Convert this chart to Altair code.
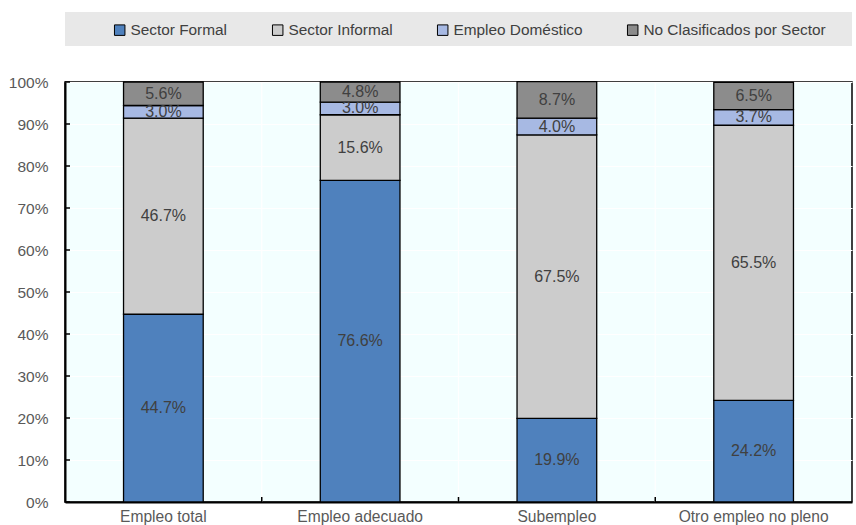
import altair as alt
import pandas as pd

# Employment categories and the share of each sector (percent)
categories = ["Empleo total", "Empleo adecuado", "Subempleo", "Otro empleo no pleno"]
series = ["Sector Formal", "Sector Informal", "Empleo Doméstico", "No Clasificados por Sector"]
formal = [44.7, 76.6, 19.9, 24.2]
informal = [46.7, 15.6, 67.5, 65.5]
domestico = [3.0, 3.0, 4.0, 3.7]
no_clasif = [5.6, 4.8, 8.7, 6.5]
colors = ["#4F81BD", "#CCCCCC", "#A7B9E3", "#8C8C8C"]
y_ticks = list(range(0, 101, 10))

rows = []
for s_i, (name, vals) in enumerate(zip(series, [formal, informal, domestico, no_clasif])):
    for cat, v in zip(categories, vals):
        rows.append({"categoria": cat, "sector": name, "orden": s_i, "valor": v})
df = pd.DataFrame(rows)

W, H = 787, 420
FONT = "Liberation Sans"
LABEL_GRAY = "#595959"

y_scale = alt.Scale(domain=[0, 100], nice=False)
x_scale = alt.Scale(paddingInner=0, paddingOuter=0)

x_axis = alt.Axis(title=None, labelAngle=0, ticks=False, grid=False,
                  domainColor="black", domainWidth=2,
                  labelFont=FONT, labelFontSize=15.6, labelColor=LABEL_GRAY,
                  labelPadding=7)

stacked = (
    alt.Chart(df)
    .transform_stack(stack="valor", groupby=["categoria"], as_=["y0", "y1"],
                     sort=[alt.SortField("orden", order="ascending")])
    .transform_calculate(
        mid="(datum.y0 + datum.y1) / 2",
        etiqueta="format(datum.valor, '.1f') + '%'",
    )
)

bars = stacked.mark_bar(stroke="black", strokeWidth=1.3,
                        width=alt.RelativeBandSize(0.405)).encode(
    x=alt.X("categoria:N", sort=categories, scale=x_scale, axis=x_axis),
    y=alt.Y("y0:Q", scale=y_scale,
            axis=alt.Axis(title=None, values=y_ticks, ticks=False,
                          labelExpr="datum.value + '%'",
                          domainColor="black", domainWidth=2,
                          gridColor="white", gridWidth=1.2, gridOpacity=1,
                          labelFont=FONT, labelFontSize=15.5, labelColor=LABEL_GRAY,
                          labelPadding=17)),
    y2="y1:Q",
    color=alt.Color(
        "sector:N", sort=series,
        scale=alt.Scale(domain=series, range=colors),
        legend=alt.Legend(title=None, orient="none", direction="horizontal",
                          legendX=47, legendY=-60,
                          symbolType="square", symbolSize=110,
                          symbolStrokeColor="black", symbolStrokeWidth=1,
                          symbolOpacity=1, labelLimit=400,
                          labelFont=FONT, labelFontSize=15.4, labelColor="#404040",
                          labelOffset=3, columnPadding=42),
    ),
    order=alt.Order("orden:Q"),
)

labels = stacked.mark_text(font=FONT, fontSize=16, color="#404040").encode(
    x=alt.X("categoria:N", sort=categories, scale=x_scale, axis=x_axis),
    y=alt.Y("mid:Q", scale=y_scale),
    text="etiqueta:N",
)

# Grey band behind the legend
legend_box = alt.Chart(pd.DataFrame({"k": [0]})).mark_rect(color="#E8E8E8").encode(
    x=alt.value(0), x2=alt.value(W), y=alt.value(-70), y2=alt.value(-36),
)

bounds = pd.DataFrame({"categoria": categories[1:]})
x_bound = alt.X("categoria:N", sort=categories, scale=x_scale, axis=x_axis, bandPosition=0)

v_grid = alt.Chart(bounds).mark_rule(color="white", strokeWidth=1.2).encode(
    x=x_bound, y=alt.value(0), y2=alt.value(H),
)
x_ticks = alt.Chart(bounds).mark_rule(color="black", strokeWidth=1.5).encode(
    x=x_bound, y=alt.value(H - 5), y2=alt.value(H),
)
y_tick_marks = alt.Chart(pd.DataFrame({"t": y_ticks})).mark_rule(
    color="black", strokeWidth=1.5
).encode(
    y=alt.Y("t:Q", scale=y_scale), x=alt.value(0), x2=alt.value(5),
)

chart = (
    alt.layer(legend_box, v_grid, bars, labels, x_ticks, y_tick_marks)
    .properties(
        width=W, height=H,
        autosize=alt.AutoSizeParams(type="none"),
        padding={"left": 65, "top": 82, "right": 4, "bottom": 23},
        background="white",
    )
    .configure_view(fill="#F3FFFF", stroke="black", strokeWidth=1.5)
)

chart.save("out.html", embed_options={"renderer": "svg", "actions": False})
